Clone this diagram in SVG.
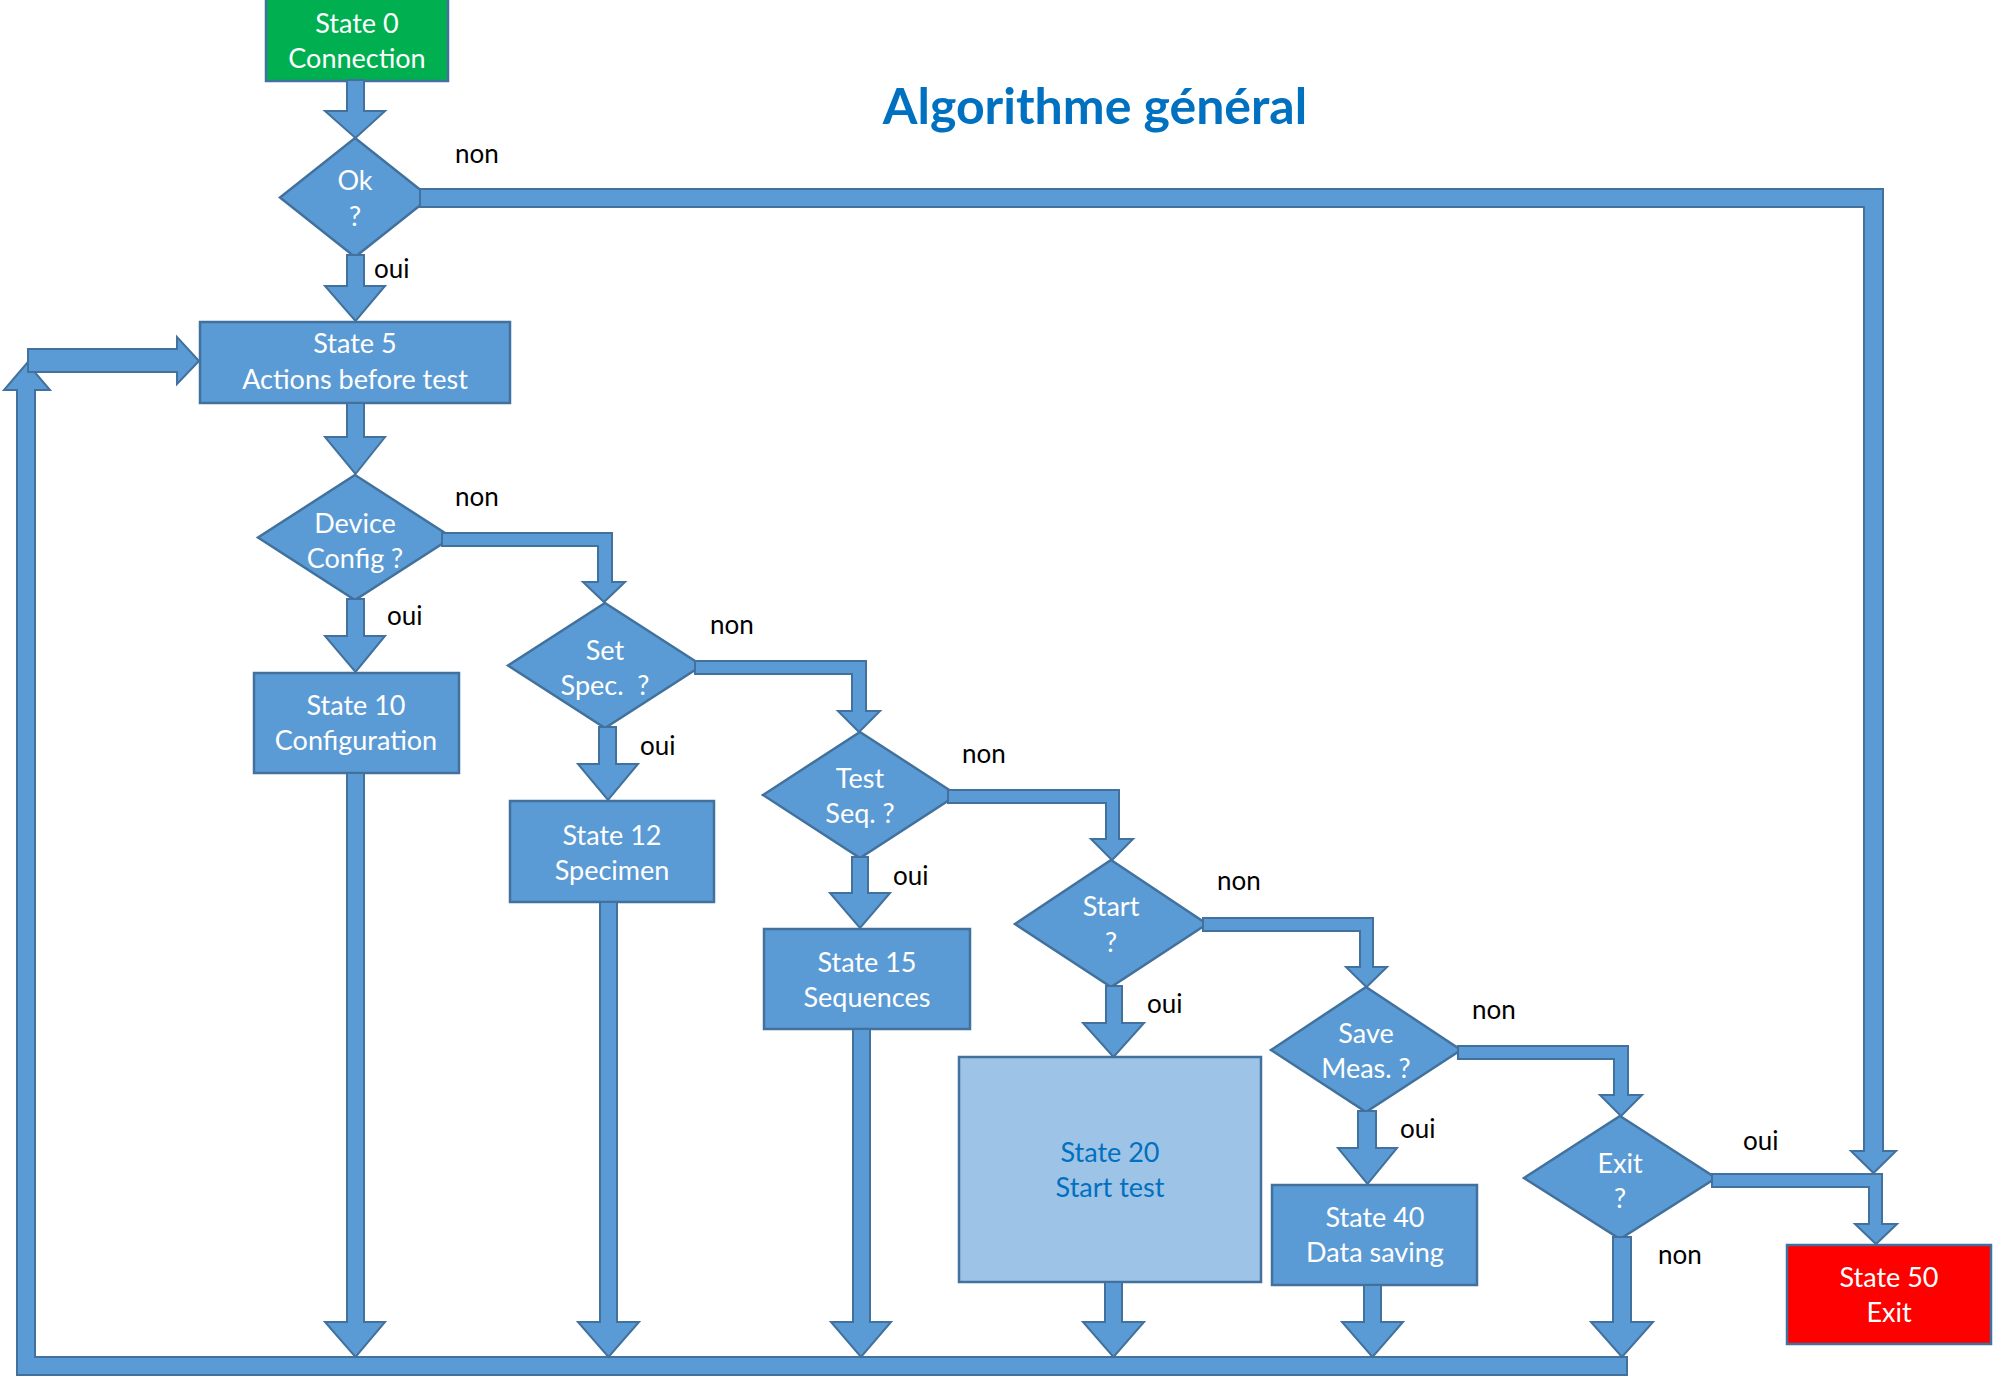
<svg xmlns="http://www.w3.org/2000/svg" width="1994" height="1376" viewBox="0 0 1994 1376">
<style>
.n{fill:#5B9BD5;stroke:#41719C;stroke-width:2.5}
.c{fill:#5B9BD5;stroke:#41719C;stroke-width:2;stroke-linejoin:miter}
.t{font-family:Lato,"Open Sans","Liberation Sans",sans-serif;font-size:27px;fill:#FFFFFF;text-anchor:middle}
.l{font-family:Lato,"Open Sans","Liberation Sans",sans-serif;font-size:26px;fill:#000000}
.title{font-family:Lato,"Open Sans","Liberation Sans",sans-serif;font-size:50px;font-weight:bold;fill:#0070C0;text-anchor:middle}
</style>
<rect width="1994" height="1376" fill="#FFFFFF"/>
<text class="title" x="1095" y="124">Algorithme général</text>

<g id="node-state0">
<rect x="266" y="-2" width="182" height="83" fill="#00B050" stroke="#41719C" stroke-width="2.5"/>
<text class="t" x="357" y="33">State 0</text>
<text class="t" x="357" y="68">Connection</text>
</g>
<g id="node-ok">
<polygon class="n" points="355,138 430,197.5 355,257 280,197.5"/>
<text class="t" x="355" y="190">Ok</text>
<text class="t" x="355" y="226">?</text>
</g>
<g id="node-state5">
<rect class="n" x="200" y="322" width="310" height="81"/>
<text class="t" x="355" y="353">State 5</text>
<text class="t" x="355" y="389">Actions before test</text>
</g>
<g id="node-device-config">
<polygon class="n" points="355,475 452,537.5 355,600 258,537.5"/>
<text class="t" x="355" y="533">Device</text>
<text class="t" x="355" y="568">Config ?</text>
</g>
<g id="node-state10">
<rect class="n" x="254" y="673" width="205" height="100"/>
<text class="t" x="356" y="715">State 10</text>
<text class="t" x="356" y="750">Configuration</text>
</g>
<g id="node-set-spec">
<polygon class="n" points="605,603 702,665.5 605,728 508,665.5"/>
<text class="t" x="605" y="660">Set</text>
<text class="t" x="605" y="695" xml:space="preserve">Spec.  ?</text>
</g>
<g id="node-state12">
<rect class="n" x="510" y="801" width="204" height="101"/>
<text class="t" x="612" y="845">State 12</text>
<text class="t" x="612" y="880">Specimen</text>
</g>
<g id="node-test-seq">
<polygon class="n" points="860,732 957,795 860,858 763,795"/>
<text class="t" x="860" y="788">Test</text>
<text class="t" x="860" y="823">Seq. ?</text>
</g>
<g id="node-state15">
<rect class="n" x="764" y="929" width="206" height="100"/>
<text class="t" x="867" y="972">State 15</text>
<text class="t" x="867" y="1007">Sequences</text>
</g>
<g id="node-start">
<polygon class="n" points="1111,860 1207,924 1111,987 1015,924"/>
<text class="t" x="1111" y="916">Start</text>
<text class="t" x="1111" y="952">?</text>
</g>
<g id="node-state20">
<rect x="959" y="1057" width="302" height="225" fill="#9DC3E6" stroke="#41719C" stroke-width="2.5"/>
<text class="t" x="1110" y="1162" style="fill:#0070C0">State 20</text>
<text class="t" x="1110" y="1197" style="fill:#0070C0">Start test</text>
</g>
<g id="node-save-meas">
<polygon class="n" points="1366,987 1461,1050 1366,1112 1271,1050"/>
<text class="t" x="1366" y="1043">Save</text>
<text class="t" x="1366" y="1078">Meas. ?</text>
</g>
<g id="node-state40">
<rect class="n" x="1272" y="1185" width="205" height="100"/>
<text class="t" x="1375" y="1227">State 40</text>
<text class="t" x="1375" y="1262">Data saving</text>
</g>
<g id="node-exit">
<polygon class="n" points="1620,1116 1716,1178 1620,1239 1524,1178"/>
<text class="t" x="1620" y="1173">Exit</text>
<text class="t" x="1620" y="1208">?</text>
</g>
<g id="node-state50">
<rect x="1787" y="1245" width="204" height="99" fill="#FF0000" stroke="#41719C" stroke-width="2.5"/>
<text class="t" x="1889" y="1287">State 50</text>
<text class="t" x="1889" y="1322">Exit</text>
</g>

<g id="connectors">
<polygon class="c" points="1627,1357 35,1357 35,390 50,390 27,363 4,390 17,390 17,1375 1627,1375"/>
<polygon class="c" points="28,349 177,349 177,337 199,361 177,384 177,372 28,372"/>
<polygon class="c" points="347,80 364,80 364,111 385,111 355.5,138 325,111 347,111"/>
<polygon class="c" points="347,255 364,255 364,286 385,286 355.5,321 325,286 347,286"/>
<polygon class="c" points="347,403 364,403 364,437 385,437 355.5,474 325,437 347,437"/>
<polygon class="c" points="347,599 364,599 364,636 385,636 355.5,672 325,636 347,636"/>
<polygon class="c" points="347,773 364,773 364,1322 385,1322 355.5,1357 325,1322 347,1322"/>
<polygon class="c" points="599,727 616,727 616,764 638,764 608,800 578,764 599,764"/>
<polygon class="c" points="600,902 617,902 617,1322 639,1322 608.5,1357 578,1322 600,1322"/>
<polygon class="c" points="852,857 868,857 868,893 890,893 860,928 830,893 852,893"/>
<polygon class="c" points="853,1029 870,1029 870,1322 891,1322 861,1357 831,1322 853,1322"/>
<polygon class="c" points="1106,986 1122,986 1122,1023 1144,1023 1113.5,1057 1083,1023 1106,1023"/>
<polygon class="c" points="1105,1282 1122,1282 1122,1322 1144,1322 1113.5,1357 1083,1322 1105,1322"/>
<polygon class="c" points="1358,1111 1376,1111 1376,1148 1397,1148 1367.5,1184 1338,1148 1358,1148"/>
<polygon class="c" points="1364,1285 1381,1285 1381,1322 1403,1322 1372.5,1357 1342,1322 1364,1322"/>
<polygon class="c" points="1613,1237 1631,1237 1631,1322 1653,1322 1622,1357 1591,1322 1613,1322"/>
<polygon class="c" points="420,189 1883,189 1883,1151 1896,1151 1873.5,1173 1851,1151 1864,1151 1864,207 420,207"/>
<polygon class="c" points="442,533 612,533 612,582 625,582 604,602 583,582 598,582 598,546 442,546"/>
<polygon class="c" points="695,661 866,661 866,711 880,711 859,732 838,711 852,711 852,674 695,674"/>
<polygon class="c" points="948,790 1119,790 1119,839 1133,839 1112,860 1091,839 1106,839 1106,803 948,803"/>
<polygon class="c" points="1203,918 1373,918 1373,967 1387,967 1366.5,987 1346,967 1360,967 1360,931 1203,931"/>
<polygon class="c" points="1458,1046 1628,1046 1628,1095 1642,1095 1621,1116 1600,1095 1614,1095 1614,1059 1458,1059"/>
<polygon class="c" points="1712,1174 1882,1174 1882,1224 1897,1224 1876,1244 1855,1224 1869,1224 1869,1187 1712,1187"/>
</g>

<g id="labels">
<text class="l" x="455" y="163">non</text>
<text class="l" x="374" y="278">oui</text>
<text class="l" x="455" y="506">non</text>
<text class="l" x="387" y="625">oui</text>
<text class="l" x="710" y="634">non</text>
<text class="l" x="640" y="755">oui</text>
<text class="l" x="962" y="763">non</text>
<text class="l" x="893" y="885">oui</text>
<text class="l" x="1217" y="890">non</text>
<text class="l" x="1147" y="1013">oui</text>
<text class="l" x="1472" y="1019">non</text>
<text class="l" x="1400" y="1138">oui</text>
<text class="l" x="1743" y="1150">oui</text>
<text class="l" x="1658" y="1264">non</text>
</g>
</svg>
